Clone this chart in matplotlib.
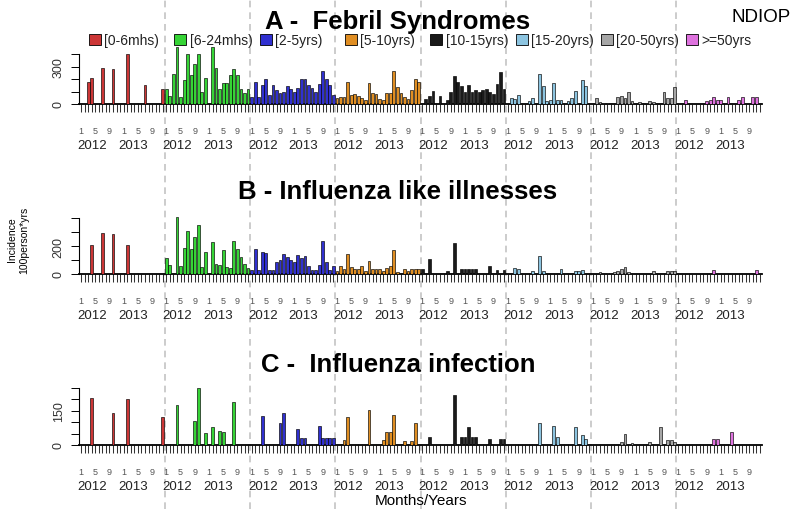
import matplotlib
matplotlib.use("Agg")
import matplotlib.pyplot as plt
from matplotlib.patches import Patch
from matplotlib.lines import Line2D
from matplotlib.legend import Legend
import matplotlib.transforms as mtransforms
import numpy as np

plt.rcParams['font.family'] = ['Liberation Sans', 'DejaVu Sans']

groups = ["[0-6mhs)", "[6-24mhs)", "[2-5yrs)", "[5-10yrs)",
          "[10-15yrs)", "[15-20yrs)", "[20-50yrs)", ">=50yrs"]
colors = ["#cc3636", "#36d436", "#3030d0", "#e08e22",
          "#1a1a1a", "#8cc4e0", "#a6a6a6", "#de72de"]
month_labels = ["1", "5", "9", "1", "5", "9"]
years = ["2012", "2013"]

# Panel A - Febril Syndromes (24 monthly values per age group, 2012-2013)
febril = [
    [0, 0, 180, 210, 0, 0, 290, 0, 0, 282, 0, 0, 0, 400, 0, 0, 0, 0, 152, 0, 0, 0, 0, 122],
    [120, 65, 245, 460, 60, 190, 405, 235, 320, 400, 100, 210, 0, 460, 290, 125, 170, 170, 230, 285, 230, 125, 85, 125],
    [60, 180, 60, 150, 205, 70, 155, 115, 85, 100, 145, 120, 95, 130, 200, 200, 150, 130, 95, 160, 270, 200, 150, 70],
    [45, 60, 55, 180, 75, 80, 65, 50, 30, 170, 90, 80, 40, 30, 90, 90, 265, 135, 90, 60, 40, 110, 200, 180],
    [0, 40, 68, 108, 0, 68, 0, 32, 100, 225, 181, 143, 100, 154, 100, 116, 95, 116, 122, 95, 81, 162, 262, 122],
    [0, 45, 40, 70, 0, 0, 25, 45, 0, 245, 145, 25, 35, 170, 35, 35, 0, 25, 45, 105, 0, 195, 145, 0],
    [0, 45, 15, 10, 10, 0, 0, 55, 62, 50, 97, 25, 0, 15, 0, 10, 25, 20, 0, 0, 95, 45, 45, 135],
    [0, 0, 35, 0, 0, 0, 0, 0, 22, 35, 55, 35, 30, 0, 60, 0, 0, 30, 55, 0, 0, 55, 55, 0],
]

# Panel B - Influenza like illnesses
ili = [
    [0, 0, 0, 210, 0, 0, 290, 0, 0, 285, 0, 0, 0, 205, 0, 0, 0, 0, 0, 0, 0, 0, 0, 0],
    [117, 63, 0, 410, 60, 189, 306, 181, 267, 351, 52, 155, 0, 232, 71, 64, 171, 53, 44, 238, 181, 119, 74, 46],
    [30, 179, 28, 160, 152, 30, 28, 89, 97, 143, 121, 101, 89, 137, 116, 126, 57, 29, 29, 64, 238, 83, 30, 54],
    [25, 60, 36, 143, 52, 36, 36, 60, 24, 95, 33, 33, 33, 24, 40, 55, 171, 17, 0, 33, 24, 33, 33, 33],
    [33, 0, 105, 0, 0, 0, 0, 24, 0, 221, 0, 33, 33, 33, 33, 33, 0, 0, 0, 55, 0, 29, 0, 29],
    [0, 0, 40, 33, 0, 0, 0, 24, 0, 126, 19, 0, 0, 0, 0, 33, 0, 0, 0, 24, 24, 29, 0, 0],
    [0, 0, 15, 0, 8, 8, 15, 24, 36, 52, 15, 0, 0, 0, 0, 0, 0, 24, 0, 0, 0, 24, 24, 24],
    [0, 0, 0, 0, 0, 0, 0, 0, 0, 0, 28, 0, 0, 0, 0, 0, 0, 0, 0, 0, 0, 0, 28, 0],
]

# Panel C - Influenza infection
infection = [
    [0, 0, 0, 208, 0, 0, 0, 0, 0, 140, 0, 0, 0, 202, 0, 0, 0, 0, 0, 0, 0, 0, 0, 121],
    [0, 0, 0, 175, 0, 0, 0, 0, 106, 252, 0, 52, 0, 77, 0, 62, 56, 0, 0, 190, 0, 0, 0, 0],
    [0, 0, 0, 128, 0, 0, 0, 0, 98, 142, 0, 0, 0, 70, 29, 32, 0, 0, 0, 82, 29, 29, 29, 29],
    [0, 0, 20, 121, 0, 0, 0, 0, 0, 153, 0, 0, 0, 22, 55, 58, 131, 0, 0, 19, 0, 19, 97, 0],
    [0, 0, 33, 0, 0, 0, 0, 0, 0, 219, 0, 33, 33, 77, 33, 33, 0, 0, 0, 27, 0, 0, 27, 27],
    [0, 0, 0, 0, 0, 0, 0, 0, 0, 97, 0, 0, 0, 84, 34, 0, 0, 0, 0, 77, 0, 46, 27, 0],
    [0, 0, 0, 0, 0, 0, 0, 0, 13, 49, 0, 10, 0, 0, 0, 0, 11, 0, 0, 81, 0, 21, 21, 11],
    [0, 0, 0, 0, 0, 0, 0, 0, 0, 0, 26, 26, 0, 0, 0, 55, 0, 0, 0, 0, 0, 0, 0, 0],
]

panels = [
    dict(data=febril, title="A -  Febril Syndromes", ylim=480, top=400, step=100,
         labels={0: "0", 300: "300"}, bottom_px=105, px_per_unit=12.4 / 100, title_y=22),
    dict(data=ili, title="B - Influenza like illnesses", ylim=420, top=400, step=100,
         labels={0: "0", 200: "200"}, bottom_px=275, px_per_unit=14.0 / 100, title_y=192),
    dict(data=infection, title="C -  Influenza infection", ylim=262, top=250, step=50,
         labels={0: "0", 150: "150"}, bottom_px=446, px_per_unit=22.8 / 100, title_y=365),
]

W, H = 796, 510
fig = plt.figure(figsize=(W / 100, H / 100), dpi=100)

n_groups = len(groups)
n_months = len(febril[0])
n_total = n_groups * n_months
left_px = 79.2
width_px = 682.6

axes = []
for p in panels:
    h_px = p["ylim"] * p["px_per_unit"]
    ax = fig.add_axes([left_px / W, (H - p["bottom_px"]) / H, width_px / W, h_px / H])
    axes.append(ax)
    for g, (vals, col) in enumerate(zip(p["data"], colors)):
        x = np.arange(n_months) + g * n_months
        ax.bar(x, vals, width=0.8, color=col, edgecolor="black", linewidth=0.45, zorder=3)
    ax.set_xlim(-0.5, n_total - 0.5)
    ax.set_ylim(0, p["ylim"])
    for s in ["top", "right"]:
        ax.spines[s].set_visible(False)
    ax.spines["left"].set_bounds(0, p["top"])
    ax.spines["left"].set_linewidth(0.8)
    ax.spines["bottom"].set_linewidth(1.3)
    # y ticks
    yt = np.arange(0, p["top"] + 1, p["step"])
    ax.set_yticks(yt)
    ax.set_yticklabels([p["labels"].get(int(v), "") for v in yt], rotation=90,
                       va="center", fontsize=9, color="#333333")
    ax.tick_params(axis="y", length=5.5, width=0.7, pad=5)
    # x ticks: every month, labels at months 1,5,9
    ax.set_xticks(np.arange(n_total))
    lab = []
    for g in range(n_groups):
        for m in range(n_months):
            lab.append(month_labels[m // 4] if m % 4 == 0 else "")
    ax.set_xticklabels(lab, fontsize=6.5, color="#555555")
    ax.tick_params(axis="x", which="major", length=6, width=0.75, color="#333333", pad=10)
    # year labels as minor ticks
    yr_pos = []
    yr_lab = []
    for g in range(n_groups):
        yr_pos += [g * n_months + 3.1, g * n_months + 14.6]
        yr_lab += years
    ax.set_xticks(yr_pos, minor=True)
    ax.set_xticklabels(yr_lab, minor=True, fontsize=9.5, color="#222222")
    ax.tick_params(axis="x", which="minor", length=0, pad=25)
    ax.patch.set_alpha(0)
    fig.text(0.5, 1 - p["title_y"] / H, p["title"], ha="center", va="center",
             fontsize=18.5, fontweight="bold")

# dashed group separators across the whole figure
trans = mtransforms.blended_transform_factory(axes[0].transData, fig.transFigure)
for g in range(1, n_groups):
    xb = g * n_months - 0.5
    fig.add_artist(Line2D([xb, xb], [0, 1], transform=trans, color="#c4c4c4",
                          lw=1.2, ls=(0, (4, 3)), zorder=0))

# legend entries, one per group
for g, (name, col) in enumerate(zip(groups, colors)):
    handle = Patch(facecolor=col, edgecolor="black", linewidth=0.6)
    leg = Legend(axes[0], [handle], [name],
                 loc="center left", bbox_to_anchor=(g * n_months + 2.3, 1 - 41 / H),
                 bbox_transform=trans, frameon=False, fontsize=10,
                 handlelength=0.85, handleheight=0.85, handletextpad=0.25,
                 borderpad=0, borderaxespad=0)
    for t in leg.get_texts():
        t.set_color("#222222")
    axes[0].add_artist(leg)

fig.text(761 / W, 1 - 18 / H, "NDIOP", ha="center", va="center", fontsize=13.5)
fig.text(18 / W, 1 - 240 / H, "Incidence\n100person*yrs", rotation=90, ha="center",
         va="center", fontsize=7.5, linespacing=1.3)
fig.text(421 / W, 1 - 501 / H, "Months/Years", ha="center", va="center", fontsize=11)

fig.savefig("out.png", dpi=100)
